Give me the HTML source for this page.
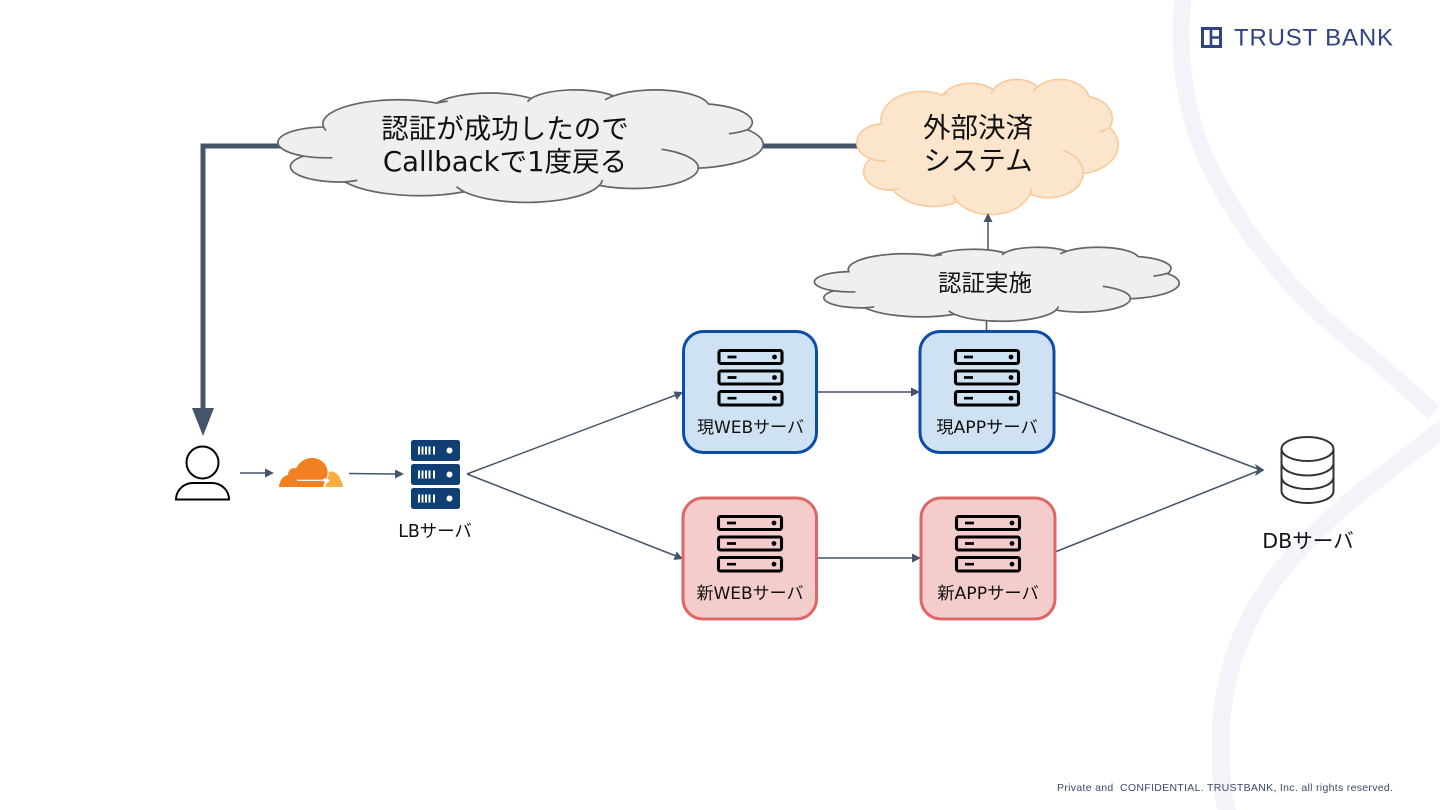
<!DOCTYPE html>
<html lang="ja">
<head>
<meta charset="utf-8">
<style>
html,body{margin:0;padding:0;background:#fff;width:1440px;height:810px;overflow:hidden}
svg{display:block}
text{font-family:"DejaVu Sans","Noto Sans CJK JP",sans-serif;fill:#111}
.ln{stroke:#44546a;stroke-width:1.5;fill:none}
.ah{fill:#44546a}
.srv rect{fill:none;stroke:#000;stroke-width:3.1}
.srv path{stroke:#000;stroke-width:2.7;fill:none}
.srv circle{fill:#000}
.cl{vector-effect:non-scaling-stroke}
</style>
</head>
<body>
<svg width="1440" height="810" viewBox="0 0 1440 810" xmlns="http://www.w3.org/2000/svg">
<defs>
  <path id="cloud" d="M3900 14370A6753 9190 0 0 1 14005 5201A5333 7267 0 0 1 22456 3432A4365 5945 0 0 1 29832 2483A4857 6595 0 0 1 38317 5578A5333 7273 0 0 1 41818 15462A6775 9220 0 0 1 37406 30209A5785 7867 0 0 1 28556 36818A6752 9215 0 0 1 16480 39267A7720 10543 0 0 1 5803 35474A4360 5918 0 0 1 2110 25552A4345 5945 0 0 1 3900 14370Z"/>
  <g id="srv" class="srv">
    <rect x="1.5" y="1.5" width="63" height="13" rx="2"/>
    <rect x="1.5" y="22" width="63" height="13" rx="2"/>
    <rect x="1.5" y="42.5" width="63" height="13.5" rx="2"/>
    <path d="M10 8h9M10 28.500h9M10 49.200h9"/>
    <circle cx="57" cy="8" r="2.400"/><circle cx="57" cy="28.500" r="2.400"/><circle cx="57" cy="49.200" r="2.400"/>
  </g>
  <g id="lbr">
    <rect x="0" y="0" width="49" height="21" rx="2.5" fill="#0f3f73"/>
    <path d="M8 6.5v8M11.5 6.5v8M15 6.5v8M18.5 6.5v8M23 6.5v8" stroke="#fff" stroke-width="2"/>
    <circle cx="38.500" cy="10.500" r="3" fill="#fff"/>
  </g>
</defs>

<!-- background bands -->
<path d="M1183 -2C1179 30 1181 70 1187.500 100C1194 135 1208 165 1224 193C1235 212 1245 229 1256.700 243C1272 263 1288 283 1305.700 300C1328 322 1351 342 1375 360C1395 378 1415 396 1434 412" fill="none" stroke="#f2f4f9" stroke-width="17"/>
<path d="M1445 428C1420 445 1395 466 1373 483C1350 500 1328 520 1308 540C1290 558 1273 580 1260 600C1247 622 1237 645 1231 667C1225 690 1221 712 1220.700 733C1220.500 750 1221 768 1222 783C1223 793 1225 803 1228 815" fill="none" stroke="#f2f4f9" stroke-width="18"/>

<!-- logo -->
<rect x="1202.500" y="28.500" width="18" height="18" fill="none" stroke="#2f4485" stroke-width="3"/>
<path d="M1211 28v19M1211 37.500h10" stroke="#2f4485" stroke-width="2.600" fill="none"/>
<text x="1234" y="45.500" font-size="24" textLength="159" lengthAdjust="spacing" style="font-family:'Liberation Sans',sans-serif;fill:#2f4485">TRUST BANK</text>

<!-- thick connector -->
<path d="M282 146H203V410" fill="none" stroke="#44546a" stroke-width="5"/>
<path d="M192 408H214L203 436Z" fill="#44546a"/>
<path d="M763 146H860" fill="none" stroke="#44546a" stroke-width="5"/>

<!-- cloud 1 -->
<g transform="translate(280 89.500) scale(.01118 .002604)">
  <use href="#cloud" fill="#efefef"/>
  <path class="cl" d="M3900 14370A6753 9190 0 0 1 14005 5201A5333 7267 0 0 1 22456 3432A4365 5945 0 0 1 29832 2483A4857 6595 0 0 1 38317 5578A5333 7273 0 0 1 41818 15462A6775 9220 0 0 1 37406 30209A5785 7867 0 0 1 28556 36818A6752 9215 0 0 1 16480 39267A7720 10543 0 0 1 5803 35474A4360 5918 0 0 1 2110 25552A4345 5945 0 0 1 3900 14370ZM4693 26177A4345 5945 0 0 1 2110 25552M6928 34899A4360 5918 0 0 1 5803 35474M16480 39267A6752 9215 0 0 1 15790 37300M28827 34751A5785 7867 0 0 1 28556 36818M34129 22954A5785 7867 0 0 1 37406 30209M41818 15462A5333 7273 0 0 1 40150 17000M38324 5426A4857 6595 0 0 1 38317 5578M29078 3952A4365 5945 0 0 1 29832 2483M22141 4720A5333 7267 0 0 1 22456 3432M14005 5201A5333 7267 0 0 1 15000 4500M4127 15789A6753 9190 0 0 1 3900 14370" fill="none" stroke="#666" stroke-width="1.700"/>
</g>
<text x="505" y="138" font-size="27.500" text-anchor="middle">認証が成功したので</text>
<text x="505" y="171" font-size="27.500" text-anchor="middle">Callbackで1度戻る</text>

<!-- cloud 2 -->
<g transform="translate(858 79) scale(.006019 .003125)">
  <path class="cl" d="M3900 14370A6753 9190 0 0 1 14005 5201A5333 7267 0 0 1 22456 3432A4365 5945 0 0 1 29832 2483A4857 6595 0 0 1 38317 5578A5333 7273 0 0 1 41818 15462A6775 9220 0 0 1 37406 30209A5785 7867 0 0 1 28556 36818A6752 9215 0 0 1 16480 39267A7720 10543 0 0 1 5803 35474A4360 5918 0 0 1 2110 25552A4345 5945 0 0 1 3900 14370Z" fill="#fce5cd"/>
  <path class="cl" d="M3900 14370A6753 9190 0 0 1 14005 5201A5333 7267 0 0 1 22456 3432A4365 5945 0 0 1 29832 2483A4857 6595 0 0 1 38317 5578A5333 7273 0 0 1 41818 15462A6775 9220 0 0 1 37406 30209A5785 7867 0 0 1 28556 36818A6752 9215 0 0 1 16480 39267A7720 10543 0 0 1 5803 35474A4360 5918 0 0 1 2110 25552A4345 5945 0 0 1 3900 14370ZM4693 26177A4345 5945 0 0 1 2110 25552M6928 34899A4360 5918 0 0 1 5803 35474M16480 39267A6752 9215 0 0 1 15790 37300M28827 34751A5785 7867 0 0 1 28556 36818M34129 22954A5785 7867 0 0 1 37406 30209M41818 15462A5333 7273 0 0 1 40150 17000M29078 3952A4365 5945 0 0 1 29832 2483M22141 4720A5333 7267 0 0 1 22456 3432M14005 5201A5333 7267 0 0 1 15000 4500" fill="none" stroke="#f9cb9c" stroke-width="1.700"/>
</g>
<text x="978" y="137" font-size="27.500" text-anchor="middle">外部決済</text>
<text x="978" y="170" font-size="27.500" text-anchor="middle">システム</text>

<!-- connectors up -->
<path class="ln" d="M988 250V220"/>
<path class="ah" d="M988 213L992.500 222H983.500Z"/>
<path class="ln" d="M986.500 320V332"/>

<!-- cloud 3 -->
<g transform="translate(816 247) scale(.008403 .001713)">
  <path class="cl" d="M3900 14370A6753 9190 0 0 1 14005 5201A5333 7267 0 0 1 22456 3432A4365 5945 0 0 1 29832 2483A4857 6595 0 0 1 38317 5578A5333 7273 0 0 1 41818 15462A6775 9220 0 0 1 37406 30209A5785 7867 0 0 1 28556 36818A6752 9215 0 0 1 16480 39267A7720 10543 0 0 1 5803 35474A4360 5918 0 0 1 2110 25552A4345 5945 0 0 1 3900 14370Z" fill="#efefef"/>
  <path class="cl" d="M3900 14370A6753 9190 0 0 1 14005 5201A5333 7267 0 0 1 22456 3432A4365 5945 0 0 1 29832 2483A4857 6595 0 0 1 38317 5578A5333 7273 0 0 1 41818 15462A6775 9220 0 0 1 37406 30209A5785 7867 0 0 1 28556 36818A6752 9215 0 0 1 16480 39267A7720 10543 0 0 1 5803 35474A4360 5918 0 0 1 2110 25552A4345 5945 0 0 1 3900 14370ZM4693 26177A4345 5945 0 0 1 2110 25552M6928 34899A4360 5918 0 0 1 5803 35474M16480 39267A6752 9215 0 0 1 15790 37300M28827 34751A5785 7867 0 0 1 28556 36818M34129 22954A5785 7867 0 0 1 37406 30209M41818 15462A5333 7273 0 0 1 40150 17000M29078 3952A4365 5945 0 0 1 29832 2483M22141 4720A5333 7267 0 0 1 22456 3432M14005 5201A5333 7267 0 0 1 15000 4500" fill="none" stroke="#666" stroke-width="1.700"/>
</g>
<text x="985" y="291" font-size="23.500" text-anchor="middle">認証実施</text>

<!-- connectors -->
<path class="ln" d="M240 473H266"/><path class="ah" d="M274 473L265 468.500V477.500Z"/>
<path class="ln" d="M349 473.500L396 474"/><path class="ah" d="M404 474L395 469.500V478.500Z"/>
<path class="ln" d="M467 474L676 395"/><path class="ah" d="M683 392L673.500 391.500L676.700 399.900Z"/>
<path class="ln" d="M467 474L676 556"/><path class="ah" d="M683 559L676.700 551.500L673.500 559.900Z"/>
<path class="ln" d="M817 392H912"/><path class="ah" d="M920 392L911 387.500V396.500Z"/>
<path class="ln" d="M817 558H913"/><path class="ah" d="M921 558L912 553.500V562.500Z"/>
<path class="ln" d="M1054 392L1258 469"/>
<path class="ln" d="M1055 552L1258 471"/>
<path class="ah" d="M1264.500 470L1255 464L1257 470L1255 476Z"/>

<!-- boxes -->
<rect x="683.500" y="331.500" width="133" height="121" rx="20" fill="#cfe2f3" stroke="#0b4da6" stroke-width="3"/>
<rect x="920" y="331.500" width="134" height="121" rx="20" fill="#cfe2f3" stroke="#0b4da6" stroke-width="3"/>
<rect x="683" y="498" width="133.500" height="121" rx="20" fill="#f4cccc" stroke="#e06666" stroke-width="3"/>
<rect x="921" y="498" width="134" height="121" rx="20" fill="#f4cccc" stroke="#e06666" stroke-width="3"/>
<use href="#srv" x="717.500" y="349"/>
<use href="#srv" x="954" y="349"/>
<use href="#srv" x="717" y="515"/>
<use href="#srv" x="955" y="515"/>
<text x="750.500" y="433" font-size="17" text-anchor="middle">現WEBサーバ</text>
<text x="987" y="433" font-size="17.300" text-anchor="middle">現APPサーバ</text>
<text x="750" y="599" font-size="17" text-anchor="middle">新WEBサーバ</text>
<text x="988" y="599" font-size="17.300" text-anchor="middle">新APPサーバ</text>

<!-- user -->
<circle cx="202.500" cy="462.500" r="16" fill="none" stroke="#000" stroke-width="2"/>
<path d="M176 499.500C176 490 184 483 193 483H212C221 483 229 490 229 499.500Z" fill="none" stroke="#000" stroke-width="2"/>

<!-- cloudflare -->
<path d="M279 487C279 481 283 476 288 475C288 470 292 467 296 468.500C299 462 305 458 312 458C320 458 326 463 327.500 470C328 475 327 478 325 481C324 483 324 485 323 487Z" fill="#f38020"/>
<path d="M328.500 472C334 470 340 475 341 481C342.500 482 343 485 343 487H325.500C326 484 327 482.500 329 481.500C330 480 329 479 327.500 479.500L327.500 478C329 476 329 474 328.500 472Z" fill="#faae40"/>
<path d="M297 480.300H322" stroke="#fff" stroke-width="1.200" fill="none"/>
<path d="M321 480.300L325.500 478L328 480.300L325.500 482Z" fill="#fff"/>

<!-- LB -->
<use href="#lbr" x="411" y="440"/>
<use href="#lbr" x="411" y="464"/>
<use href="#lbr" x="411" y="488"/>
<text x="435" y="537" font-size="17.400" text-anchor="middle">LBサーバ</text>

<!-- DB -->
<g fill="none" stroke="#333" stroke-width="2">
  <ellipse cx="1307.500" cy="449" rx="26" ry="12"/>
  <path d="M1281.500 449V491C1281.500 498 1293 503 1307.500 503S1333.500 498 1333.500 491V449"/>
  <path d="M1281.500 463C1281.500 470 1293 475.500 1307.500 475.500S1333.500 470 1333.500 463"/>
  <path d="M1281.500 477C1281.500 484 1293 489 1307.500 489S1333.500 484 1333.500 477"/>
</g>
<text x="1308" y="548" font-size="20.600" text-anchor="middle">DBサーバ</text>

<!-- footer -->
<text x="1057" y="791" font-size="10.500" textLength="336" lengthAdjust="spacing" style="font-family:'Liberation Sans',sans-serif;fill:#3b4a6b">Private and &#160;CONFIDENTIAL. TRUSTBANK, Inc. all rights reserved.</text>
</svg>
</body>
</html>
